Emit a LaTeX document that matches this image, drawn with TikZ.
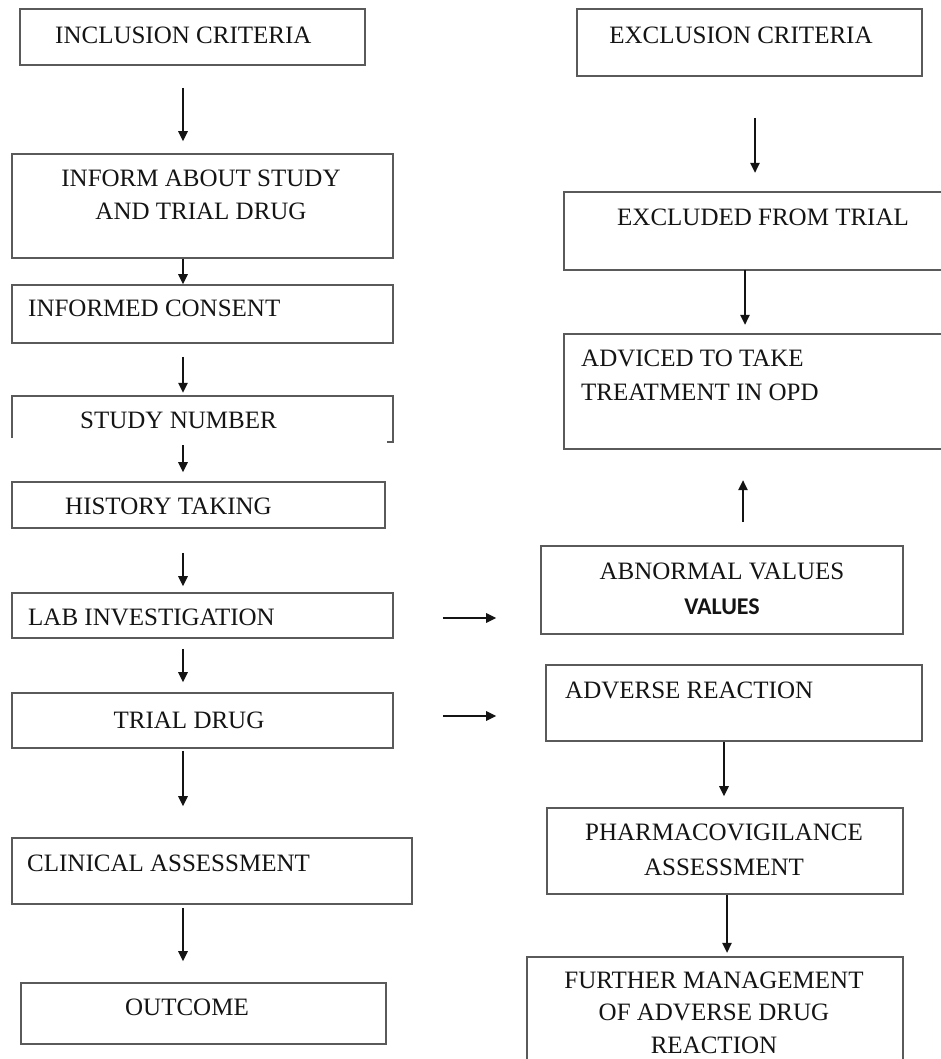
\documentclass[tikz,border=0pt]{standalone}
\usepackage{fontspec}
\setmainfont{Liberation Serif}
\newfontfamily\calib{Carlito}
\usetikzlibrary{arrows.meta}
\definecolor{boxline}{HTML}{5A5A5A}
\definecolor{ink}{HTML}{141414}
\tikzset{
  box/.style={draw=boxline, line width=1.6pt, inner sep=0pt},
  frame/.style={inner sep=0pt},
  openbox/.style={draw=boxline, line width=1.6pt},
  txt/.style={text=ink, inner sep=0pt, font=\fontsize{25}{33}\selectfont},
  arr/.style={draw=ink, line width=1.4pt, -{Triangle[length=10pt,width=9.5pt]}}
}
\begin{document}
\begin{tikzpicture}[x=1pt,y=-1pt]
\useasboundingbox[fill=white] (0,0) rectangle (941,1059);

% ---------- left column boxes ----------
\node[box, minimum width=345, minimum height=56] (inc) at (192.5,37) {};
\node[box, minimum width=381, minimum height=104] (inform) at (202.5,206) {};
\node[box, minimum width=381, minimum height=58] (consent) at (202.5,314) {};
\node[frame, minimum width=381, minimum height=46] (study) at (202.5,419) {};
\draw[openbox] (12,438) -- (12,396) -- (393,396) -- (393,442) -- (387,442);
\node[box, minimum width=373, minimum height=46] (history) at (198.5,505) {};
\node[box, minimum width=381, minimum height=45] (lab) at (202.5,615.5) {};
\node[box, minimum width=381, minimum height=55] (trial) at (202.5,720.5) {};
\node[box, minimum width=400, minimum height=66] (clinical) at (212,871) {};
\node[box, minimum width=365, minimum height=61] (outcome) at (203.5,1013.5) {};

% ---------- right column boxes ----------
\node[box, minimum width=345, minimum height=67] (exc) at (749.5,42.5) {};
\node[frame, minimum width=377, minimum height=78] (excluded) at (752.5,231) {};
\draw[openbox] (941,192) -- (564,192) -- (564,270) -- (941,270);
\node[frame, minimum width=377, minimum height=115] (adviced) at (752.5,391.5) {};
\draw[openbox] (941,334) -- (564,334) -- (564,449) -- (941,449);
\node[box, minimum width=362, minimum height=88] (abnormal) at (722,590) {};
\node[box, minimum width=376, minimum height=76] (adverse) at (734,703) {};
\node[box, minimum width=356, minimum height=86] (pharma) at (725,851) {};
\node[frame, minimum width=376, minimum height=102] (further) at (715,1008) {};
\draw[openbox] (527,1059) -- (527,957) -- (903,957) -- (903,1059);

% ---------- texts ----------
\node[txt, anchor=west] (inc-t) at (55,35) {INCLUSION CRITERIA};
\node[txt, align=center] (inform-t) at (201,195) {INFORM ABOUT STUDY\\AND TRIAL DRUG};
\node[txt, anchor=west] (consent-t) at (28,308) {INFORMED CONSENT};
\node[txt, anchor=west] (study-t) at (80,420) {STUDY NUMBER};
\node[txt, anchor=west] (history-t) at (65,506) {HISTORY TAKING};
\node[txt, anchor=west] (lab-t) at (28,617) {LAB INVESTIGATION};
\node[txt] (trial-t) at (189,720) {TRIAL DRUG};
\node[txt, anchor=west] (clinical-t) at (27,863) {CLINICAL ASSESSMENT};
\node[txt] (outcome-t) at (187,1007) {OUTCOME};

\node[txt] (exc-t) at (741,35) {EXCLUSION CRITERIA};
\node[txt, anchor=west] (excluded-t) at (617,217) {EXCLUDED FROM TRIAL};
\node[txt, anchor=west, align=left, font=\fontsize{25}{34}\selectfont] (adviced-t) at (581,375) {ADVICED TO TAKE\\TREATMENT IN OPD};
\node[txt, align=center, font=\fontsize{25}{35}\selectfont] (abnormal-t) at (722,588.5) {ABNORMAL VALUES\\{\calib\bfseries\fontsize{24}{35}\selectfont VALUES}};
\node[txt, anchor=west] (adverse-t) at (565,690) {ADVERSE REACTION};
\node[txt, align=center, font=\fontsize{25}{35}\selectfont] (pharma-t) at (724,849.5) {PHARMACOVIGILANCE\\ASSESSMENT};
\node[txt, align=center, font=\fontsize{25}{32.5}\selectfont] (further-t) at (714,1012.5) {FURTHER MANAGEMENT\\OF ADVERSE DRUG\\REACTION};

% ---------- arrow x positions ----------
\coordinate (xL) at (183,0);
\coordinate (xR1) at (755,0);
\coordinate (xR2) at (745,0);
\coordinate (xR3) at (743,0);
\coordinate (xR4) at (724,0);
\coordinate (xR5) at (727,0);
\coordinate (yA) at (0,618);
\coordinate (yB) at (0,716);

% ---------- left column arrows ----------
\draw[arr, shorten <=22pt, shorten >=12pt] (inc.south -| xL) -- (inform.north -| xL);
\draw[arr] (inform.south -| xL) -- (consent.north -| xL);
\draw[arr, shorten <=13pt, shorten >=3pt] (consent.south -| xL) -- (study.north -| xL);
\draw[arr, shorten <=3pt, shorten >=9pt] (study.south -| xL) -- (history.north -| xL);
\draw[arr, shorten <=24pt, shorten >=6pt] (history.south -| xL) -- (lab.north -| xL);
\draw[arr, shorten <=10pt, shorten >=10pt] (lab.south -| xL) -- (trial.north -| xL);
\draw[arr, shorten <=2pt, shorten >=31pt] (trial.south -| xL) -- (clinical.north -| xL);
\draw[arr, shorten <=3pt, shorten >=21pt] (clinical.south -| xL) -- (outcome.north -| xL);

% ---------- right column arrows ----------
\draw[arr, shorten <=41pt, shorten >=19pt] (exc.south -| xR1) -- (excluded.north -| xR1);
\draw[arr, shorten >=9pt] (excluded.south -| xR2) -- (adviced.north -| xR2);
\draw[arr, shorten <=23pt, shorten >=31pt] (abnormal.north -| xR3) -- (adviced.south -| xR3);
\draw[arr, shorten >=11pt] (adverse.south -| xR4) -- (pharma.north -| xR4);
\draw[arr, shorten >=4pt] (pharma.south -| xR5) -- (further.north -| xR5);

% ---------- horizontal arrows ----------
\draw[arr, shorten <=49pt, shorten >=44pt] (lab.east |- yA) -- (abnormal.west |- yA);
\draw[arr, shorten <=49pt, shorten >=49pt] (trial.east |- yB) -- (adverse.west |- yB);
\end{tikzpicture}
\end{document}
